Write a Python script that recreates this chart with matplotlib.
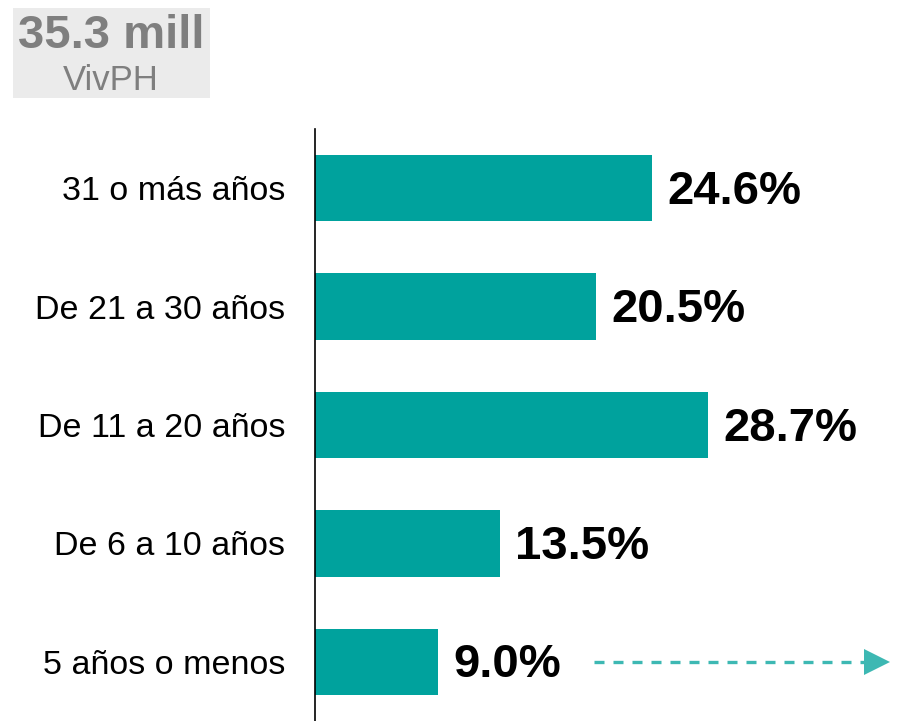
import matplotlib
matplotlib.use("Agg")
import matplotlib.pyplot as plt
from matplotlib.patches import Rectangle

categories = ["5 años o menos", "De 6 a 10 años", "De 11 a 20 años", "De 21 a 30 años", "31 o más años"]
values = [9.0, 13.5, 28.7, 20.5, 24.6]
value_labels = ["9.0%", "13.5%", "28.7%", "20.5%", "24.6%"]
total_label = "35.3 mill"
total_sub = "VivPH"

W, H = 897, 721
fig = plt.figure(figsize=(W / 100, H / 100), dpi=100)
plt.rcParams['font.family'] = ['Liberation Sans', 'DejaVu Sans']

teal = "#00A29D"
ax = fig.add_axes([315 / W, 0, (W - 315) / W, (721 - 129) / H])
ypos = list(range(len(categories)))
ax.barh(ypos, values, height=0.56, color=teal)
ax.set_xlim(0, 582 / 13.7)
ax.set_ylim(-0.5, 4.5)
ax.set_yticks(ypos)
ax.set_yticklabels(categories, fontsize=24.5, family=['Liberation Sans', 'DejaVu Sans'])
ax.tick_params(axis='y', length=0, pad=21.5)
ax.set_xticks([])
for s in ["top", "right", "bottom"]:
    ax.spines[s].set_visible(False)
ax.spines["left"].set_color("black")
ax.spines["left"].set_linewidth(1.2)

for y, v, lab in zip(ypos, values, value_labels):
    ax.text(v + 1.1, y - 0.03, lab, va='center', ha='left', fontsize=34, fontweight='bold',
            family=['Liberation Sans', 'DejaVu Sans'], color='black')

# dashed arrow beside the smallest bar
arrow_col = "#3DB8B3"
ln, = ax.plot([20.4, 40.3], [0, 0], color=arrow_col, lw=2.4, solid_capstyle='butt')
ln.set_dashes((3.0, 2.7))
ax.plot([41.05], [0], marker='>', markersize=19, color=arrow_col, markeredgewidth=0)

# total box
fig.patches.append(Rectangle((13 / W, (H - 98) / H), 197 / W, 90 / H, transform=fig.transFigure,
                             facecolor="#EBEBEB", edgecolor='none', zorder=0))
fig.text(111 / W, 1 - 36 / H, total_label, ha='center', va='center', fontsize=34, fontweight='bold',
         color="#7F7F7F")
fig.text(111 / W, 1 - 80 / H, total_sub, ha='center', va='center', fontsize=25, color="#7F7F7F")

fig.savefig("out.png", dpi=100)
